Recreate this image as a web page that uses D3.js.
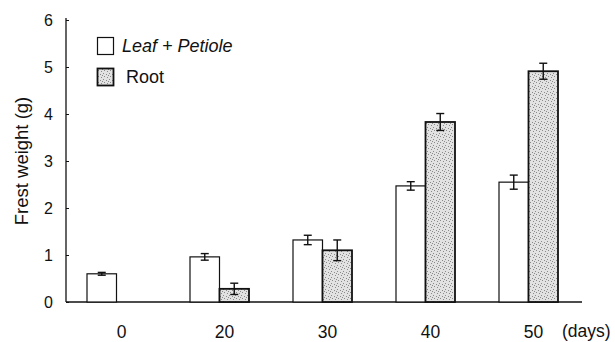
<!DOCTYPE html>
<html><head><meta charset="utf-8">
<script src="https://cdn.jsdelivr.net/npm/d3@7"></script>
<style>body{margin:0;background:#fff}svg{display:block}text{font-family:"Liberation Sans",Arial,sans-serif;fill:#111}</style>
</head><body><svg id="c" width="615" height="342"></svg>
<script>
const days = ["0","20","30","40","50"];
const seriesNames = ["Leaf + Petiole","Root"];
const leaf = [0.6,0.96,1.32,2.47,2.55];
const leafErr = [0.03,0.07,0.1,0.09,0.15];
const root = [null,0.28,1.1,3.83,4.91];
const rootErr = [null,0.12,0.22,0.18,0.17];
const yTicks = [0,1,2,3,4,5,6];

const svg = d3.select("#c");
const defs = svg.append("defs");
const pat = defs.append("pattern").attr("id","stip").attr("patternUnits","userSpaceOnUse").attr("width",6).attr("height",6);
pat.append("rect").attr("width",6).attr("height",6).attr("fill","#e2e2e2");
[[1,1],[4,2],[2,4],[5,5],[0,3]].forEach(p=>pat.append("rect").attr("x",p[0]).attr("y",p[1]).attr("width",1).attr("height",1).attr("fill","#8a8a8a"));

const x = d3.scaleBand().domain(days).range([65,580]);
const y = d3.scaleLinear().domain([0,6]).range([302,20]);
const bw = 29.5;

// axes
const yAx = svg.append("g").attr("transform","translate(66,0)")
  .call(d3.axisLeft(y).tickValues(yTicks).tickSize(3).tickFormat(d3.format("d")));
yAx.select(".domain").attr("d",`M0,${y(6)-2}V${y(0)}`).attr("stroke","#111").attr("stroke-width",1.3);
yAx.selectAll(".tick line").attr("x2",3).attr("stroke","#111");
yAx.selectAll(".tick text").attr("x",-13).attr("dy","0.36em").style("font-size","16px");
const xAx = svg.append("g").attr("transform",`translate(0,${y(0)})`)
  .call(d3.axisBottom(x).tickSize(0).tickPadding(0));
xAx.select(".domain").attr("d",`M66,0H582`).attr("stroke","#111").attr("stroke-width",1.3);
xAx.selectAll(".tick text").attr("dx",5).attr("y",36).attr("dy",0).style("font-size","17.5px");
svg.append("text").attr("x",562).attr("y",337).style("font-size","17.5px").text("(days)");

svg.append("text").attr("transform","translate(28,161) rotate(-90)").attr("text-anchor","middle").style("font-size","18.5px").text("Frest weight (g)");

// bars
const g = svg.append("g");
days.forEach((d,i)=>{
  const c = x(d)+x.bandwidth()/2;
  const items = [
    {v:leaf[i],e:leafErr[i],x0:c-bw,fill:"#fff",sw:1.2},
    {v:root[i],e:rootErr[i],x0:c,fill:"url(#stip)",sw:1.8}
  ];
  items.forEach(it=>{
    if(it.v==null) return;
    g.append("rect").attr("x",it.x0).attr("y",y(it.v)).attr("width",bw).attr("height",y(0)-y(it.v))
      .attr("fill",it.fill).attr("stroke","#111").attr("stroke-width",it.sw);
    const cx = it.x0+bw/2;
    g.append("line").attr("x1",cx).attr("x2",cx).attr("y1",y(it.v+it.e)).attr("y2",y(it.v-it.e)).attr("stroke","#111").attr("stroke-width",1.4);
    [it.v+it.e,it.v-it.e].forEach(v=>g.append("line").attr("x1",cx-4).attr("x2",cx+4).attr("y1",y(v)).attr("y2",y(v)).attr("stroke","#111").attr("stroke-width",1.4));
  });
});

// legend
const lg = svg.append("g");
[["#fff",1.2],["url(#stip)",1.8]].forEach((s,i)=>{
  lg.append("rect").attr("x",97.5).attr("y",37.5+i*31).attr("width",16).attr("height",17).attr("fill",s[0]).attr("stroke","#111").attr("stroke-width",s[1]);
});
lg.append("text").attr("x",122).attr("y",52).style("font-size","18px").style("font-style","italic").text(seriesNames[0]);
lg.append("text").attr("x",126).attr("y",83).style("font-size","18px").text(seriesNames[1]);
</script></body></html>
